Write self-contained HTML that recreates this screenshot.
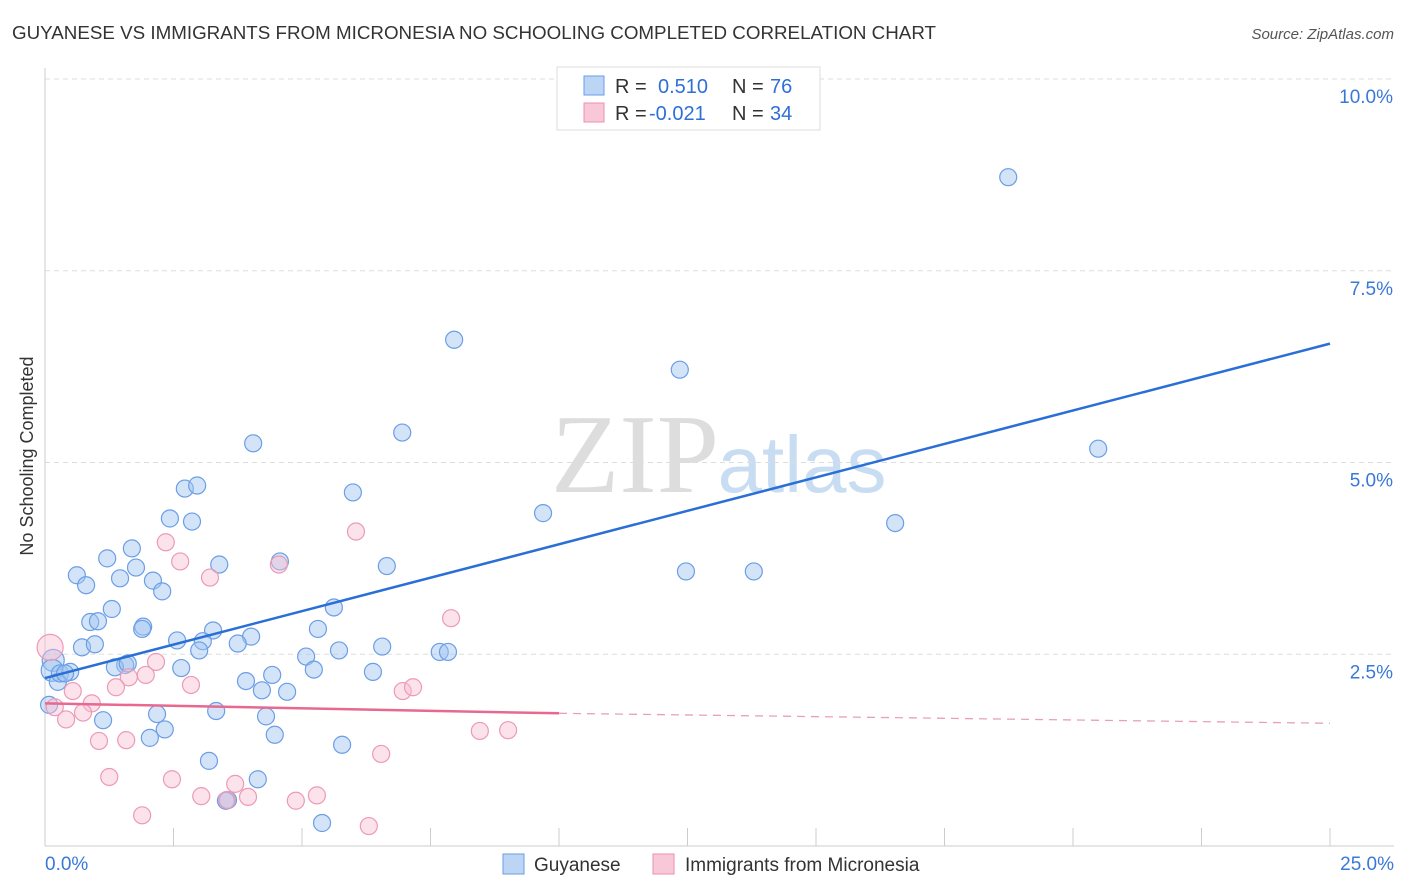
<!DOCTYPE html>
<html><head><meta charset="utf-8"><style>
body{margin:0;background:#fff;font-family:"Liberation Sans",sans-serif;}
svg{display:block}
</style></head><body>
<svg id="chart" width="1406" height="892">
<text x="12" y="39" font-size="18" fill="#333" textLength="924" lengthAdjust="spacingAndGlyphs">GUYANESE VS IMMIGRANTS FROM MICRONESIA NO SCHOOLING COMPLETED CORRELATION CHART</text>
<text x="1394" y="39" font-size="15" fill="#555" font-style="italic" text-anchor="end">Source: ZipAtlas.com</text>
<text x="33" y="456" font-size="18" fill="#333" text-anchor="middle" transform="rotate(-90 33 456)">No Schooling Completed</text>
<text x="635" y="492" font-size="112" fill="#ddd" font-family="Liberation Serif,serif" text-anchor="middle">ZIP</text>
<text x="802" y="492" font-size="80" fill="#c8dcf2" text-anchor="middle">atlas</text>
<g id="grid"></g><g id="axes"></g><g id="pts"></g><g id="trend"></g>
<g>
<rect x="557" y="67" width="263" height="63" fill="#fff" stroke="#ddd"/>
<rect x="584" y="76" width="20" height="19" fill="#bcd5f5" stroke="#6a9ee6"/>
<rect x="584" y="103" width="20" height="19" fill="#f9c8d8" stroke="#ec8fb0"/>
<text y="93" font-size="20"><tspan x="615" fill="#333">R = </tspan><tspan x="658" fill="#2f6fd6">0.510</tspan><tspan x="732" fill="#333">N = </tspan><tspan x="770" fill="#2f6fd6">76</tspan></text>
<text y="120" font-size="20"><tspan x="615" fill="#333">R = </tspan><tspan x="649" fill="#2f6fd6">-0.021</tspan><tspan x="732" fill="#333">N = </tspan><tspan x="770" fill="#2f6fd6">34</tspan></text>
</g>
<g>
<rect x="503" y="854" width="21" height="20" fill="#bcd5f5" stroke="#6a9ee6"/>
<text x="534" y="871" font-size="19" fill="#333">Guyanese</text>
<rect x="653" y="854" width="21" height="20" fill="#f9c8d8" stroke="#ec8fb0"/>
<text x="685" y="871" font-size="19" fill="#333">Immigrants from Micronesia</text>
</g>
</svg>
<script>
const yTicks=[2.5,5,7.5,10];
const yTickLabels=["2.5%","5.0%","7.5%","10.0%"];
const xTicks=[0,2.5,5,7.5,10,12.5,15,17.5,20,22.5,25];
const xEndLabels=["0.0%","25.0%"];
const blueX=[18.74,7.96,12.35,6.95,20.49,4.05,2.72,2.96,5.99,9.69,16.54,2.43,2.86,1.69,1.21,4.57,3.39,6.65,1.77,0.62,1.46,2.10,0.80,2.28,1.30,5.62,1.91,1.89,0.88,1.03,3.27,4.01,5.31,2.57,3.07,3.75,0.72,0.97,3.00,6.56,5.72,5.08,7.68,7.84,0.16,0.14,1.56,1.36,1.61,2.65,5.23,4.42,6.38,0.25,0.29,0.49,0.39,3.91,4.22,4.71,0.08,1.13,2.18,3.33,4.30,2.33,2.04,4.47,5.78,3.19,4.14,3.56,3.52,5.39,12.47,13.79];
const blueY=[8.72,6.60,6.21,5.39,5.18,5.25,4.66,4.70,4.61,4.34,4.21,4.27,4.23,3.88,3.75,3.71,3.67,3.65,3.63,3.53,3.49,3.46,3.40,3.32,3.09,3.11,2.86,2.83,2.92,2.93,2.81,2.73,2.83,2.68,2.67,2.64,2.59,2.63,2.55,2.60,2.55,2.47,2.53,2.53,2.42,2.29,2.36,2.33,2.38,2.32,2.30,2.23,2.27,2.14,2.25,2.27,2.25,2.15,2.03,2.01,1.84,1.64,1.72,1.76,1.69,1.52,1.41,1.45,1.32,1.11,0.87,0.60,0.59,0.30,3.58,3.58];
const pinkX=[0.10,2.35,2.63,3.21,4.55,6.05,7.90,2.16,1.96,1.63,1.38,2.84,0.54,0.91,0.19,0.74,0.41,1.05,1.58,6.96,7.16,8.46,9.01,1.25,2.47,3.04,3.70,3.95,4.88,5.29,6.54,1.89,6.30,3.54];
const pinkY=[2.59,3.96,3.71,3.50,3.67,4.10,2.97,2.40,2.23,2.20,2.07,2.10,2.02,1.86,1.81,1.74,1.65,1.37,1.38,2.02,2.07,1.50,1.51,0.90,0.87,0.65,0.81,0.64,0.59,0.66,1.20,0.40,0.26,0.60];
const blueTrend=[2.19,6.55];
const pinkTrend=[1.86,1.73,1.60];
const X0=45,X1=1330,Y0=846,PX=76.7;
const sx=v=>X0+(X1-X0)*v/25, sy=v=>Y0-v*PX;
const NS="http://www.w3.org/2000/svg";
function mk(t,a,p){const e=document.createElementNS(NS,t);for(const k in a)e.setAttribute(k,a[k]);document.getElementById(p).appendChild(e);return e;}
yTicks.forEach((t,i)=>{
 const l=mk('line',{x1:X0,x2:1394,y1:sy(t),y2:sy(t),stroke:'#ddd','stroke-dasharray':'5,4'},'grid');
 
 
 const tx=mk('text',{x:1393,y:sy(t)+24,'font-size':19,fill:'#3a78d8','text-anchor':'end'},'grid');
 tx.textContent=yTickLabels[i];
 
 
});
const ax=mk('line',{x1:X0,x2:X0,y1:68,y2:846,stroke:'#ccc'},'axes');


const bx=mk('line',{x1:X0,x2:1394,y1:846,y2:846,stroke:'#ccc'},'axes');


xTicks.forEach(t=>{
 const l=mk('line',{x1:sx(t),x2:sx(t),y1:828,y2:846,stroke:'#ccc'},'axes');
 
 
});
[[0,'start',45],[25,'end',1394]].forEach((d,i)=>{
 const tx=mk('text',{x:d[2],y:870,'font-size':19,fill:'#3a78d8','text-anchor':d[1]},'axes');
 tx.textContent=xEndLabels[i];
 
 
});
blueX.forEach((x,i)=>{
 const c=mk('circle',{cx:sx(x),cy:sy(blueY[i]),r:i>=44&&i<=45?11:8.5,fill:'rgba(160,196,240,0.45)',stroke:'#6a9ee6','stroke-width':1.2},'pts');
 
 
});
pinkX.forEach((x,i)=>{
 const c=mk('circle',{cx:sx(x),cy:sy(pinkY[i]),r:i==0?13:8.5,fill:'rgba(248,190,210,0.45)',stroke:'#ec9ab5','stroke-width':1.2},'pts');
 
 
});
const bl=mk('line',{x1:sx(0),y1:sy(blueTrend[0]),x2:sx(25),y2:sy(blueTrend[1]),stroke:'#2a6fd6','stroke-width':2.5},'trend');


const pl=mk('line',{x1:sx(0),y1:sy(pinkTrend[0]),x2:sx(10),y2:sy(pinkTrend[1]),stroke:'#e8688f','stroke-width':2.5},'trend');


const pd=mk('line',{x1:sx(10),y1:sy(pinkTrend[1]),x2:sx(25),y2:sy(pinkTrend[2]),stroke:'#e8a0b8','stroke-width':1.3,'stroke-dasharray':'8,6'},'trend');


</script>
</body></html>
